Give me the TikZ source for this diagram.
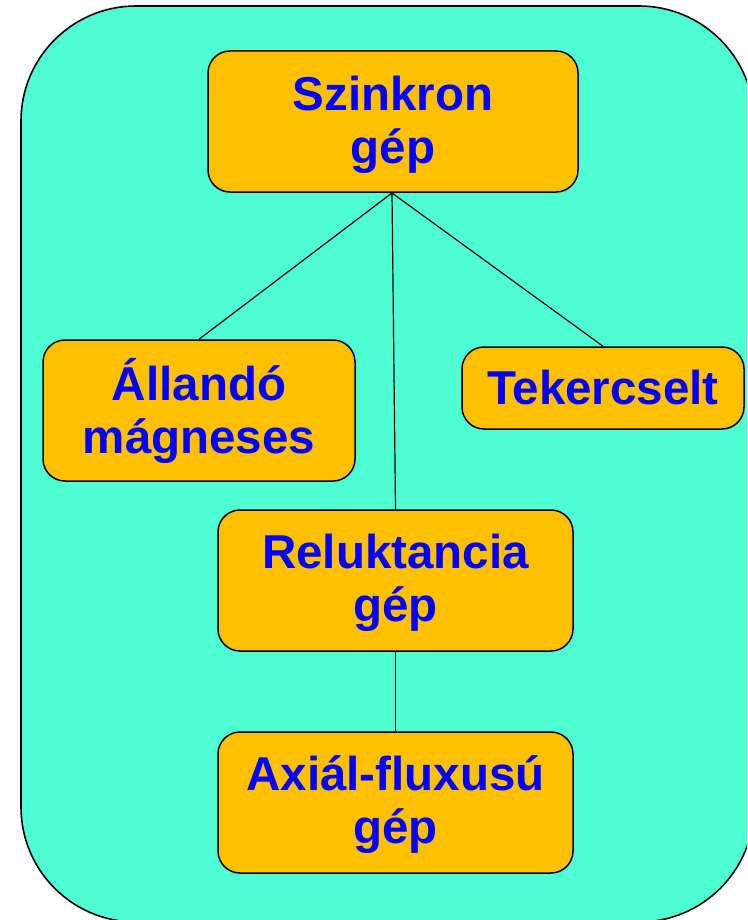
\documentclass[tikz,border=0pt]{standalone}
\usepackage{fontspec}
\setmainfont{Liberation Sans}
\definecolor{bgteal}{HTML}{4DFFD3}
\definecolor{boxorange}{HTML}{FFC000}
\definecolor{txtblue}{HTML}{0000FF}
\begin{document}
\begin{tikzpicture}[x=1pt,y=-1pt,
  box/.style={draw=black, line width=1.5pt, fill=boxorange, rounded corners=22pt,
    minimum width=#1, inner sep=0pt},
  boxtext/.style={inner sep=0pt, align=center, text=txtblue,
    font=\fontsize{47.5}{53}\selectfont\bfseries},
  link/.style={draw=black, line width=1.2pt}]
\useasboundingbox (0,0) rectangle (747,920);
\begin{scope}
\clip (0,0) rectangle (747,920);
\draw[line width=1.6pt, fill=bgteal, rounded corners=115pt] (21,6) rectangle (754,922);
\end{scope}
\node[box=370pt, minimum height=141pt,
  label={[boxtext, yshift=-3pt]center:{Szinkron\\gép}}] (sz) at (393,121.5) {};
\node[box=312pt, minimum height=141pt,
  label={[boxtext, yshift=0pt]center:{Állandó\\mágneses}}] (al) at (199,410.5) {};
\node[box=282pt, minimum height=82pt,
  label={[boxtext]center:{Tekercselt}}] (tk) at (603,388) {};
\node[box=355pt, minimum height=141pt,
  label={[boxtext, yshift=-2pt]center:{Reluktancia\\gép}}] (rl) at (395.5,580.5) {};
\node[box=355pt, minimum height=141pt,
  label={[boxtext, yshift=-2pt]center:{Axiál-fluxusú\\gép}}] (ax) at (395.5,802.5) {};
\coordinate (hub) at (392,193);
\draw[link] (hub) -- (al.north);
\draw[link] (hub) -- (tk.north);
\draw[link] (hub) -- (rl.north);
\draw[link] (rl.south) -- (ax.north);
\end{tikzpicture}
\end{document}
